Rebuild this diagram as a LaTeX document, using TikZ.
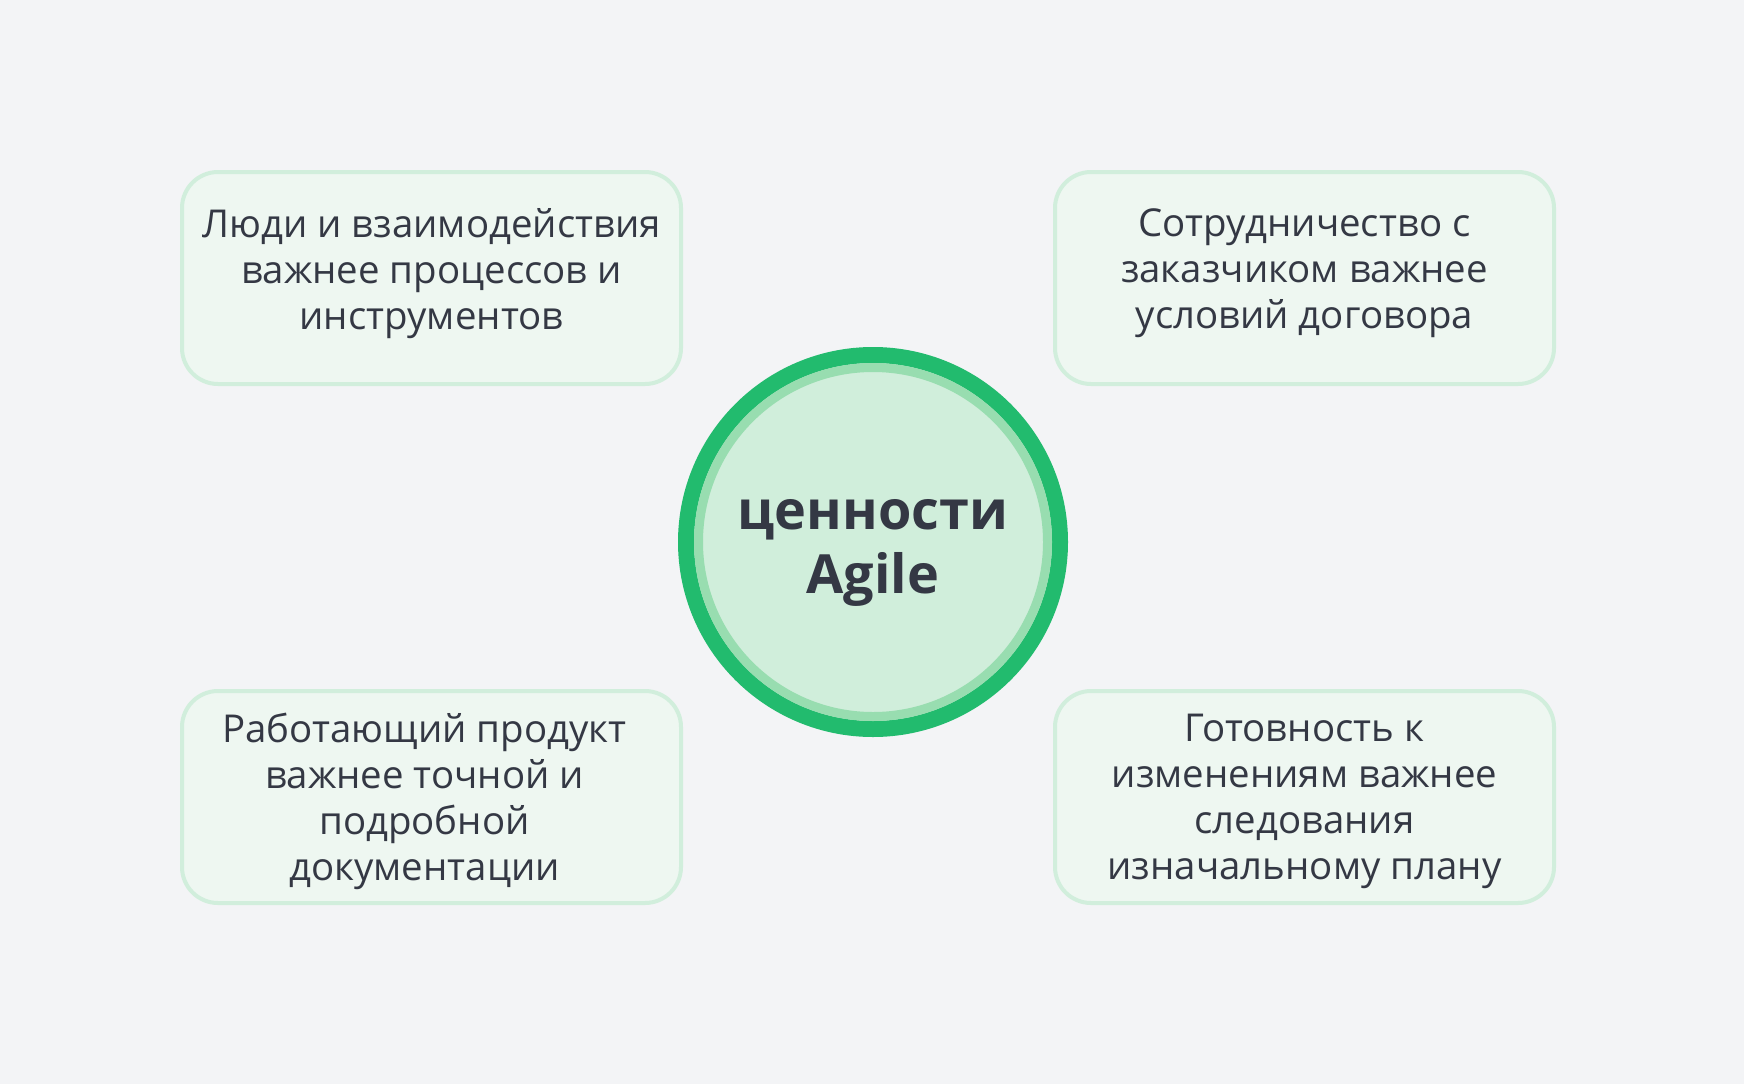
\documentclass[tikz,border=0pt]{standalone}
\usepackage{fontspec}
\setmainfont{Open Sans}

\definecolor{pagebg}{HTML}{F3F4F6}
\definecolor{boxfill}{HTML}{EEF7F1}
\definecolor{boxline}{HTML}{D1EEDC}
\definecolor{ink}{HTML}{343844}
\definecolor{ringdark}{HTML}{22BB6E}
\definecolor{ringlight}{HTML}{98DDB0}
\definecolor{hubfill}{HTML}{D0EEDB}

\begin{document}
\begin{tikzpicture}[x=1pt, y=-1pt]
    \tikzset{
        value/.style={
            draw=boxline, fill=boxfill, line width=4pt,
            rounded corners=36pt,
            minimum width=499pt, minimum height=212pt,
            inner sep=0pt,
        },
        valuetext/.style={
            align=center, text=ink, inner sep=0pt,
            font=\fontsize{38.4}{46}\selectfont,
        },
        hub/.style={
            circle, draw=ringdark, fill=hubfill, line width=16pt,
            minimum size=374pt, inner sep=0pt,
        },
        hubtext/.style={
            align=center, text=ink, inner sep=0pt,
            font=\fontsize{54}{64}\selectfont\bfseries,
        },
    }

    % Page
    \fill[pagebg] (0, 0) rectangle (1744, 1084);

    % Centre
    \node[hub] (agile) at (873, 542) {};
    \draw[ringlight, line width=9pt] (agile.center) circle (174.5);
    \node[hubtext, yshift=-11pt] (agiletext) at (agile.center) {ценности\\Agile};

    % Values
    \node[value, label={[valuetext, yshift=4.5pt]center:{Люди и взаимодействия\\важнее процессов и\\инструментов}}] (people) at (431.5, 278) {};
    \node[value, label={[valuetext, yshift=4.5pt]center:{Сотрудничество с\\заказчиком важнее\\условий договора}}] (customer) at (1304.5, 278) {};
    \node[value, label={[valuetext, xshift=-7pt, yshift=-4.5pt]center:{Работающий продукт\\важнее точной и\\подробной\\документации}}] (product) at (431.5, 797) {};
    \node[value, label={[valuetext, yshift=-4.5pt]center:{Готовность к\\изменениям важнее\\следования\\изначальному плану}}] (change) at (1304.5, 797) {};

\end{tikzpicture}
\end{document}
